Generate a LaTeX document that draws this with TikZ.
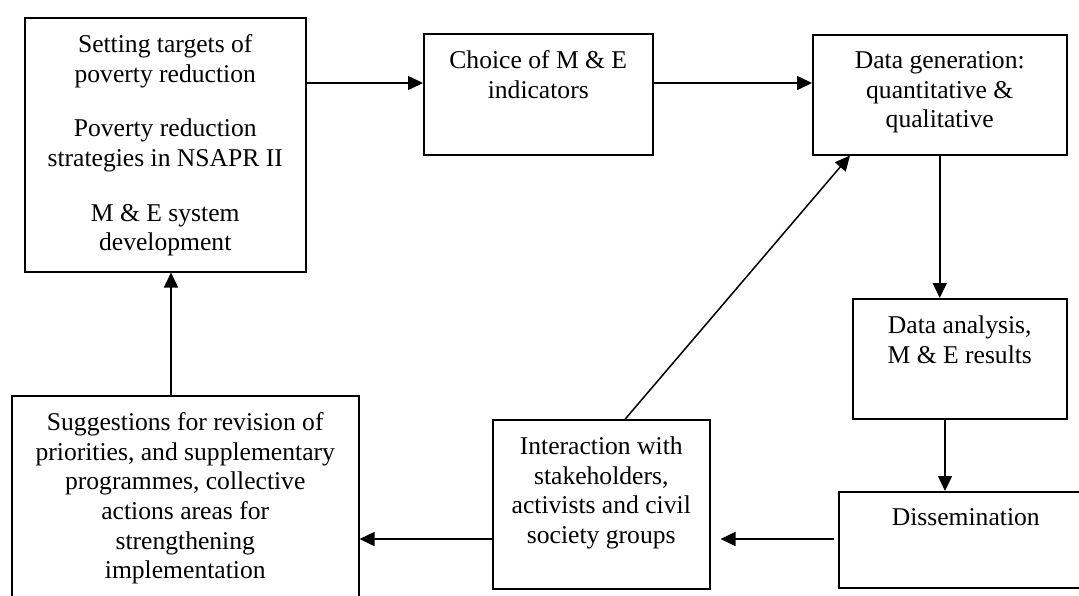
\documentclass[tikz,border=0pt]{standalone}
\usepackage{fontspec}
\setmainfont{Liberation Serif}
\usetikzlibrary{arrows.meta}
\newdimen\unitpx \unitpx=0.5pt
\newcommand{\boxtext}[3]{\parbox[c][#2\unitpx][t]{#1\unitpx}{\centering\vspace*{8.5pt}#3}}

\begin{document}
\begin{tikzpicture}[x=0.5pt, y=-0.5pt, line width=0.75pt,
  box/.style = {draw, inner sep=0pt, anchor=north west, font=\fontsize{12.8}{14.8}\selectfont},
  arr/.style = {-{Triangle[length=7.5pt,width=7pt]}}]
        \useasboundingbox (0,0) rectangle (1079,595);
        \clip (0,0) rectangle (1079,595);

        \node[box] (targets) at (24,17) {\boxtext{281}{254}{Setting targets of\\ poverty reduction\\[12.5pt] Poverty reduction\\ strategies in NSAPR II\\[12.5pt] M \& E system\\ development}};
        \node[box] (choice) at (423,33) {\boxtext{229}{121}{Choice of M \& E\\ indicators}};
        \node[box] (datagen) at (812,34) {\boxtext{254}{120}{Data generation:\\ quantitative \&\\ qualitative}};
        \node[box] (analysis) at (852,298) {\boxtext{214}{120}{Data analysis,\\ M \& E results}};
        \node[box] (dissem) at (838,491) {\boxtext{254}{96}{Dissemination}};
        \node[box] (interact) at (492,419) {\boxtext{217}{169}{Interaction with\\ stakeholders,\\ activists and civil\\ society groups}};
        \node[box] (suggest) at (11,395) {\boxtext{347}{230}{Suggestions for revision of\\ priorities, and supplementary\\ programmes, collective\\ actions areas for\\ strengthening\\ implementation}};

        \coordinate (row) at (0,83); % upper arrows
        \coordinate (low) at (0,539); % lower arrows
        \coordinate (col) at (945,0);
        \coordinate (back) at (171,0);

        \draw[arr] (targets.east |- row) -- (choice.west |- row);
        \draw[arr] (choice.east |- row) -- (datagen.west |- row);
        \draw[arr] (datagen.south) -- (datagen.south |- analysis.north);
        \draw[arr] (analysis.south -| col) -- (dissem.north -| col);
        \draw[arr, shorten <=2pt, shorten >=5pt] (dissem.west |- low) -- (interact.east |- low);
        \draw[arr] (interact.west |- low) -- (suggest.east |- low);
        \draw[arr] ([xshift=12pt]interact.north) -- ([xshift=19pt]datagen.south west); % feedback to data
        \draw[arr] (suggest.north -| back) -- (targets.south -| back);
      \end{tikzpicture}
\end{document}
